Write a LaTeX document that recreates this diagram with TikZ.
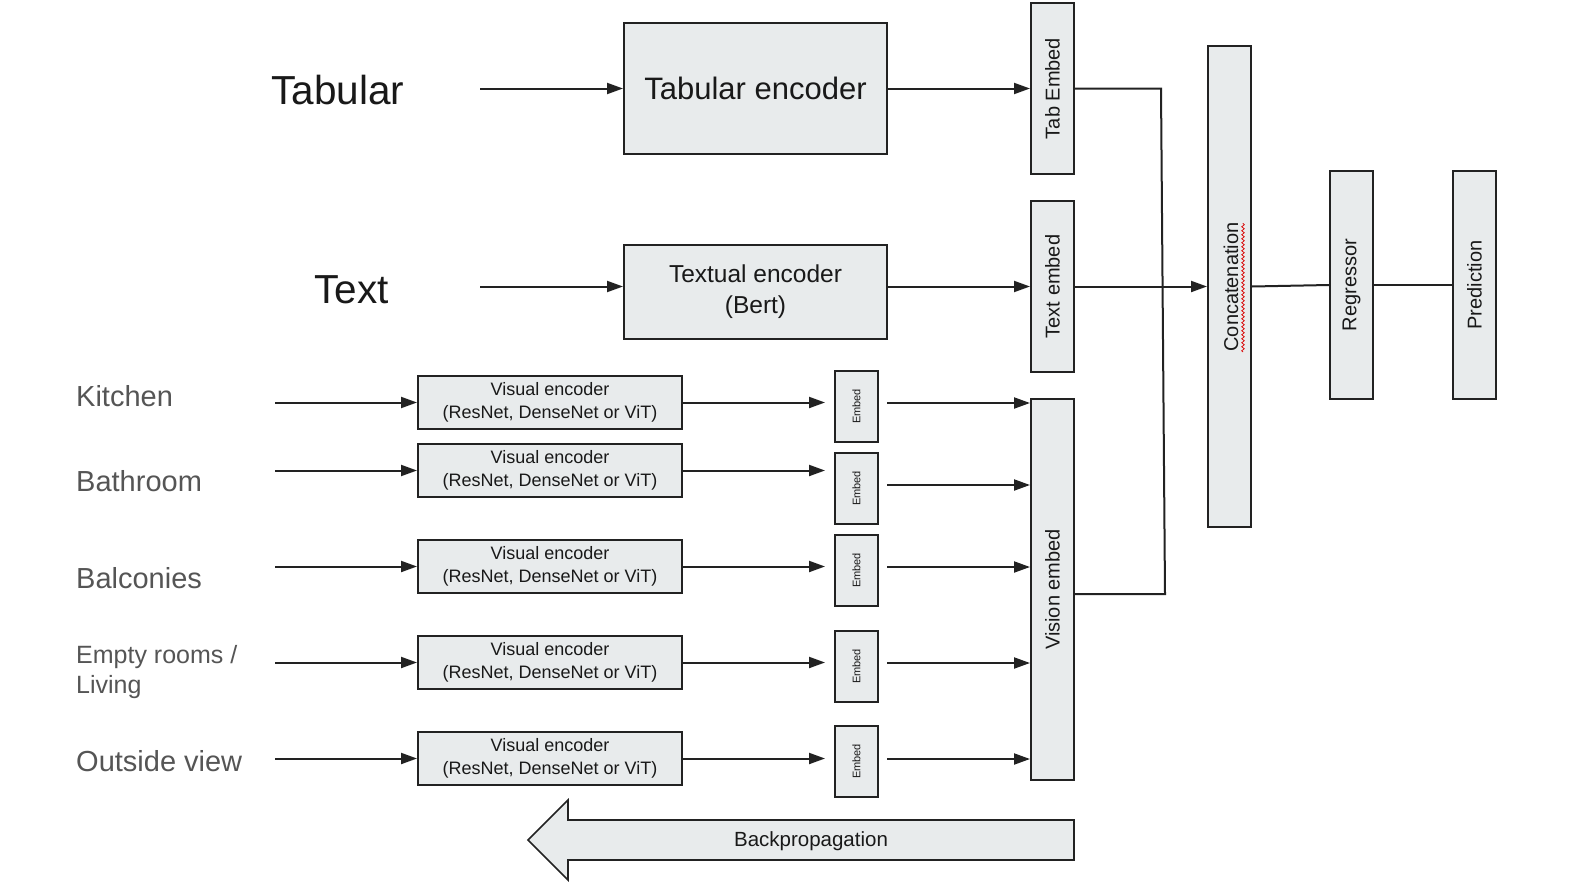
\documentclass[tikz,border=0pt]{standalone}
\usepackage{fontspec}
\setmainfont{Liberation Sans}
\usetikzlibrary{arrows.meta,calc,decorations.pathmorphing}
\definecolor{boxfill}{RGB}{232,235,236}
\definecolor{boxline}{RGB}{34,34,34}
\definecolor{lbl}{RGB}{85,85,85}
\definecolor{dark}{RGB}{25,25,25}
\begin{document}
\begin{tikzpicture}[x=1pt,y=-1pt,
  every node/.style={inner sep=0pt, text=dark},
  box/.style={draw=boxline, fill=boxfill, line width=2pt, inner sep=0pt},
  arr/.style={line width=2pt, draw=boxline, -{Triangle[length=16pt,width=11pt]}},
  conn/.style={line width=2pt, draw=boxline},
  biglbl/.style={font=\fontsize{40.5}{48}\selectfont, text=dark},
  roomlbl/.style={font=\fontsize{29}{34}\selectfont, text=lbl},
  vlbl/.style={rotate=90, font=\fontsize{20}{24}\selectfont},
  vencstyle/.style={box, minimum width=264pt, minimum height=53pt, align=center, font=\fontsize{18}{22.5}\selectfont},
  embstyle/.style={box, minimum width=43pt, minimum height=71pt}
]
\fill[white] (0,0) rectangle (1574,894);
\useasboundingbox (0,0) rectangle (1574,894);

% top inputs
\node[biglbl, anchor=base west] (tabl) at (271,104) {Tabular};
\node[biglbl, anchor=base west] (txtl) at (314,303) {Text};
\coordinate (tabin) at (480,88.5);
\coordinate (txtin) at (480,286.5);

\node[box, minimum width=263pt, minimum height=131pt, font=\fontsize{31}{37}\selectfont] (tabenc) at (755.5,88.5) {Tabular encoder};
\node[box, minimum width=263pt, minimum height=94pt, align=center, font=\fontsize{24.5}{31}\selectfont] (txtenc) at (755.5,292) {Textual encoder\\(Bert)};

\node[box, minimum width=43pt, minimum height=171pt] (tabemb) at (1052.5,88.5) {};
\node[vlbl] (tabembt) at (tabemb) {Tab Embed};
\node[box, minimum width=43pt, minimum height=171pt] (txtemb) at (1052.5,286.5) {};
\node[vlbl] (txtembt) at (txtemb) {Text embed};
\node[box, minimum width=43pt, minimum height=381pt] (visemb) at (1052.5,589.5) {};
\node[vlbl] (visembt) at (visemb) {Vision embed};

\node[box, minimum width=43pt, minimum height=481pt] (concat) at (1229.5,286.5) {};
\node[vlbl] (concatt) at (1231,287) {Concatenation};
\node[box, minimum width=43pt, minimum height=228pt] (reg) at (1351.5,285) {};
\node[vlbl] (regt) at (reg) {Regressor};
\node[box, minimum width=43pt, minimum height=228pt] (pred) at (1474.5,285) {};
\node[vlbl] (predt) at (pred) {Prediction};

\draw[red!85!black, line width=0.7pt, decorate, decoration={snake, amplitude=1.3pt, segment length=4pt}] (1243,352) -- (1243,223);

\draw[arr] (tabin) -- (tabin -| tabenc.west);
\draw[arr] (tabenc.east) -- (tabemb.west);
\draw[arr] (txtin) -- (txtin -| txtenc.west);
\draw[arr] (txtenc.east |- txtin) -- (txtin -| txtemb.west);
\draw[arr] (txtemb.east) -- (concat.west);
\draw[conn] (concat.east) -- (reg.west);
\draw[conn] (reg.east) -- (pred.west);

\coordinate (j1) at (1161,88.5);
\coordinate (j2) at (1165,594);
\draw[conn] (tabemb.east |- j1) -- (j1) -- (j2) -- (j2 -| visemb.east);

% room labels
\node[roomlbl, anchor=base west] (kit) at (76,406) {Kitchen};
\node[roomlbl, anchor=base west] (bath) at (76,491) {Bathroom};
\node[roomlbl, anchor=base west] (balc) at (76,588) {Balconies};
\node[font=\fontsize{25}{30}\selectfont, text=lbl, anchor=west, align=left] (empty) at (76,672) {Empty rooms /\\Living};
\node[roomlbl, anchor=base west] (outv) at (76,771) {Outside view};

\foreach \i/\ay/\ey/\oy in {1/402.5/406.5/403, 2/470.5/488.5/485, 3/566.5/570.5/567, 4/662.5/666.5/663, 5/758.5/761.5/759} {
  \node[vencstyle] (v\i) at (550,\ay) {Visual encoder\\(ResNet, DenseNet or ViT)};
  \node[embstyle] (e\i) at (856.5,\ey) {};
  \node[rotate=90, font=\fontsize{11}{13}\selectfont] (et\i) at (e\i) {Embed};
  \coordinate (in\i) at (275,\ay);
  \draw[arr] (in\i) -- (in\i -| v\i.west);
  \draw[arr] (v\i.east) -- ($(v\i.east -| e\i.west)+(-9,0)$);
  \coordinate (o\i) at (887,\oy);
  \draw[arr] (o\i) -- (o\i -| visemb.west);
}

% backpropagation arrow
\draw[box, line width=1.6pt] (1074,820) -- (1074,860) -- (568,860) -- (568,880) -- (528,840) -- (568,800) -- (568,820) -- cycle;
\node[font=\fontsize{20.5}{24}\selectfont] (bp) at (811,841) {Backpropagation};
\end{tikzpicture}
\end{document}
